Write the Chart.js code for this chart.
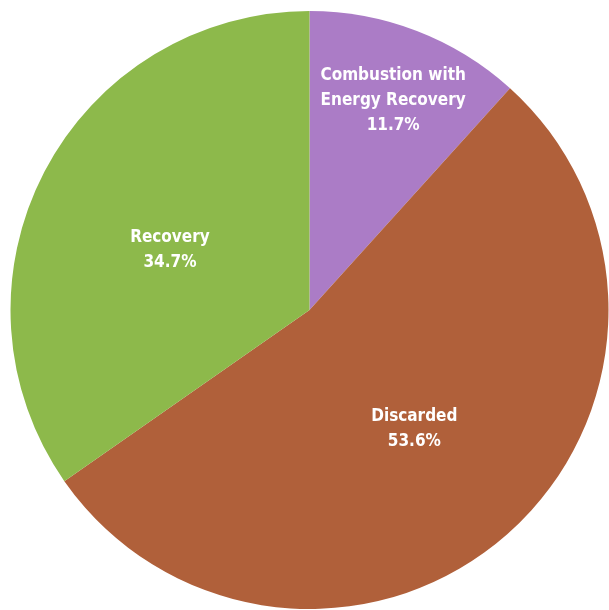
<!DOCTYPE html>
<html>
<head>
<meta charset="utf-8">
<script src="https://cdn.jsdelivr.net/npm/chart.js@4/dist/chart.umd.min.js"></script>
<style>
  html, body { margin: 0; padding: 0; background: #fff; }
  #wrap { width: 609px; height: 610px; position: relative; }
</style>
</head>
<body>
<div id="wrap"><canvas id="pie"></canvas></div>
<script>
// chart data
const categories = ["Combustion with\nEnergy Recovery", "Discarded", "Recovery"];
const shares = [11.7, 53.6, 34.7];
const sliceColors = ["#ab7cc6", "#b0603a", "#8db94b"];

// where each label sits: fraction of the radius along the slice middle, plus a small nudge
const labelRadius = [0.76, 0.52, 0.5];
const labelNudge = [[2, 3], [2, 2], [-7, 9]];

const sliceLabels = {
    id: "sliceLabels",
    afterDatasetsDraw(chart) {
        const ctx = chart.ctx;
        const arcs = chart.getDatasetMeta(0).data;
        ctx.save();
        ctx.fillStyle = "#ffffff";
        ctx.font = "bold 17px 'DejaVu Sans Condensed', 'Liberation Sans Narrow', sans-serif";
        ctx.textAlign = "center";
        ctx.textBaseline = "middle";
        arcs.forEach((arc, i) => {
            const mid = (arc.startAngle + arc.endAngle) / 2;
            const r = arc.outerRadius * labelRadius[i];
            const x = arc.x + Math.cos(mid) * r + labelNudge[i][0];
            const y = arc.y + Math.sin(mid) * r + labelNudge[i][1];
            const lines = categories[i].split("\n").concat(shares[i].toFixed(1) + "%");
            const lh = 25;
            const top = y - (lines.length - 1) * lh / 2;
            lines.forEach((t, k) => ctx.fillText(t, x, top + k * lh));
        });
        ctx.restore();
    }
};

new Chart(document.getElementById("pie").getContext("2d"), {
    type: "pie",
    data: {
        labels: categories,
        datasets: [{
            data: shares,
            backgroundColor: sliceColors,
            borderWidth: 0
        }]
    },
    options: {
        responsive: true,
        maintainAspectRatio: false,
        animation: false,
        layout: { padding: { top: 11, bottom: 1, left: 10, right: 0 } },
        plugins: {
            legend: { display: false },
            tooltip: { enabled: false }
        }
    },
    plugins: [sliceLabels]
});
</script>
</body>
</html>
